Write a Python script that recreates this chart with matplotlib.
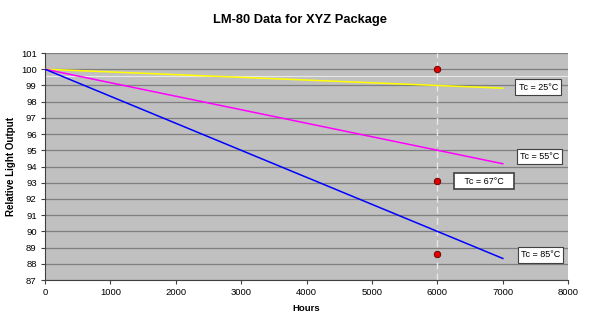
import matplotlib
matplotlib.use("Agg")
import matplotlib.pyplot as plt

plt.rcParams['font.family'] = ['Liberation Sans', 'DejaVu Sans']

hours = [0, 7000]
tc25 = [100.0, 98.83]
tc55 = [100.0, 94.17]
tc85 = [100.0, 88.33]
point_hours = [6000, 6000, 6000]
point_vals = [100.0, 93.1, 88.6]
labels = ["Tc = 25°C", "Tc = 55°C", "Tc = 67°C", "Tc = 85°C"]
label_x = [7541, 7560, 6715, 7575]
label_y = [98.9, 94.6, 93.1, 88.55]

fig = plt.figure(figsize=(6, 3.22), dpi=100)
ax = fig.add_axes([0.075, 0.1304, 0.872, 0.705])
ax.set_facecolor('#c0c0c0')
ax.set_xlim(0, 8000)
ax.set_ylim(87, 101)
ax.set_yticks(range(87, 102))
ax.set_xticks(range(0, 8001, 1000))
ax.grid(axis='y', color='#7f7f7f', linewidth=0.9)
ax.set_axisbelow(True)
ax.axhline(99.58, color='#e8e8e8', linewidth=0.8, zorder=1)
ax.axvline(6000, color='#e8e8e8', linewidth=1.0, linestyle=(0, (5, 3)), zorder=1.5)

ax.plot(hours, tc25, color='#ffff00', linewidth=1.1, zorder=3)
ax.plot(hours, tc55, color='#ff00ff', linewidth=1.1, zorder=3)
ax.plot(hours, tc85, color='#0000ff', linewidth=1.1, zorder=3)
ax.scatter(point_hours, point_vals, s=22, color='#e00000', edgecolor='#600000', linewidth=0.6, zorder=4)

for i, (t, x, y) in enumerate(zip(labels, label_x, label_y)):
    lw = 1.2 if i == 2 else 0.8
    txt = ("   " + t + "   ") if i == 2 else t
    ax.text(x, y, txt, fontsize=6.5, ha='center', va='center', zorder=5,
            bbox=dict(boxstyle='square,pad=0.35', facecolor='white', edgecolor='#404040', linewidth=lw))

for s in ['top', 'right']:
    ax.spines[s].set_visible(False)
for s in ['left', 'bottom']:
    ax.spines[s].set_color('#404040')
ax.tick_params(labelsize=6.8, length=3, color='#404040', pad=3)
ax.set_xlabel('Hours', fontsize=6.8, fontweight='bold', labelpad=5)
ax.set_ylabel('Relative Light Output', fontsize=7, fontweight='bold')
ax.yaxis.set_label_coords(-0.055, 0.5)
fig.text(0.5, 0.938, 'LM-80 Data for XYZ Package', ha='center', va='center', fontsize=9.3, fontweight='bold')

fig.savefig('out.png', dpi=100)
